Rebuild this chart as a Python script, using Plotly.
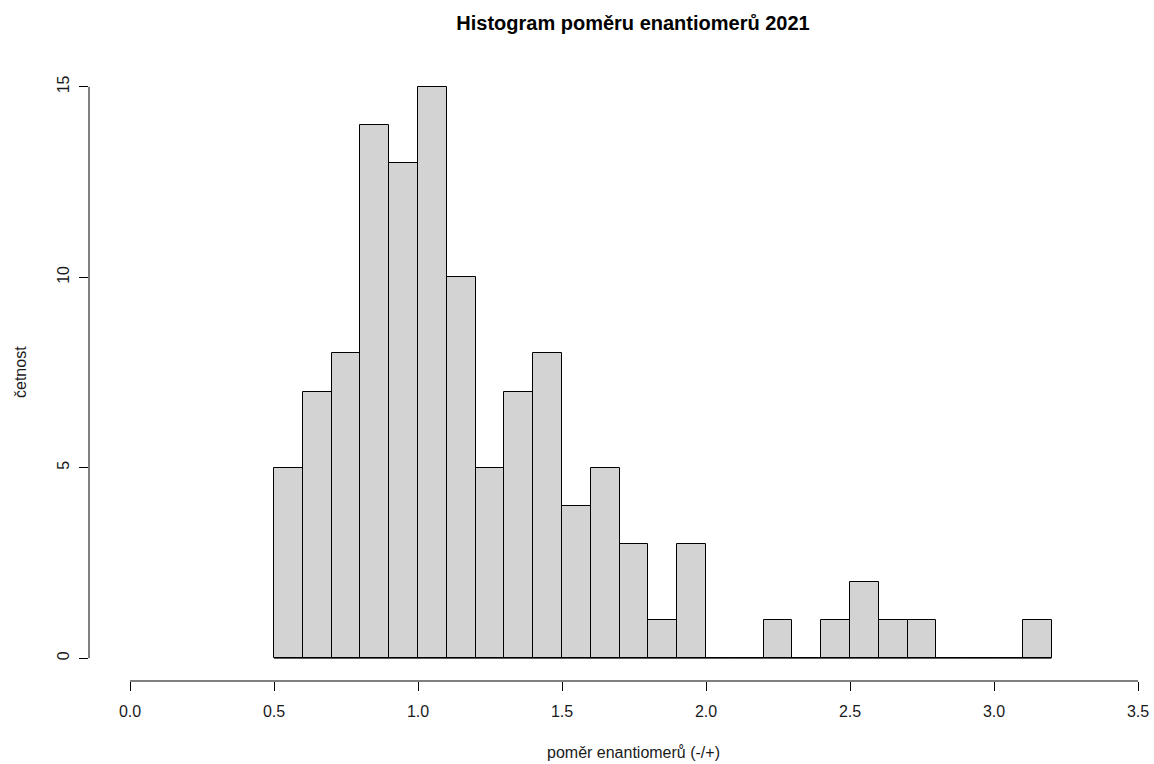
import plotly.graph_objects as go

# Data
bin_edges = [round(0.5 + 0.1 * i, 1) for i in range(28)]  # 0.5 .. 3.2
counts = [5, 7, 8, 14, 13, 15, 10, 5, 7, 8, 4, 5, 3, 1, 3, 0, 0, 1, 0, 1, 2, 1, 1, 0, 0, 0, 1]
x_ticks = [0.0, 0.5, 1.0, 1.5, 2.0, 2.5, 3.0, 3.5]
x_tick_labels = ["0.0", "0.5", "1.0", "1.5", "2.0", "2.5", "3.0", "3.5"]
y_ticks = [0, 5, 10, 15]
y_tick_labels = ["0", "5", "10", "15"]

title = "Histogram poměru enantiomerů 2021"
x_title = "poměr enantiomerů (-/+)"
y_title = "četnost"

centers = [(bin_edges[i] + bin_edges[i + 1]) / 2 for i in range(len(counts))]
widths = [bin_edges[i + 1] - bin_edges[i] for i in range(len(counts))]

W, H = 1154, 764
ml, mr, mt, mb = 89, 0, 64, 83
pw, ph = W - ml - mr, H - mt - mb
px_per_x = 288.0
x0 = -(130 - ml) / px_per_x
x1 = x0 + pw / px_per_x
ymin, ymax = -0.6, 15.6

FONT = "Liberation Sans, Arial, sans-serif"
TXT = "#1a1a1a"

fig = go.Figure()
fig.add_trace(go.Bar(
    x=centers, y=counts, width=widths,
    marker=dict(color="#D3D3D3", line=dict(color="#000000", width=1)),
    hoverinfo="x+y", showlegend=False,
))
# baseline of zero-height bins
fig.add_trace(go.Scatter(
    x=[bin_edges[0], bin_edges[-1]], y=[0, 0], mode="lines",
    line=dict(color="#000000", width=1), showlegend=False, hoverinfo="skip",
))

# R-style axis lines spanning first..last tick
fig.add_shape(type="line", xref="x", yref="paper", x0=x_ticks[0], x1=x_ticks[-1], y0=0, y1=0,
              line=dict(color="#000000", width=1))
fig.add_shape(type="line", xref="paper", yref="y", x0=0, x1=0, y0=y_ticks[0], y1=y_ticks[-1],
              line=dict(color="#000000", width=1))

fig.update_layout(
    width=W, height=H,
    margin=dict(l=ml, r=mr, t=mt, b=mb, autoexpand=False),
    paper_bgcolor="white", plot_bgcolor="white",
    font=dict(family=FONT, size=16, color=TXT),
    bargap=0,
    title=dict(text="<b>" + title + "</b>", x=633 / W, xref="container", xanchor="center",
               y=1 - 23 / H, yref="container", yanchor="middle",
               font=dict(family=FONT, size=20, color="#000000")),
    xaxis=dict(range=[x0, x1], tickmode="array", tickvals=x_ticks, ticktext=x_tick_labels,
               ticks="outside", ticklen=9, tickcolor="#000000", tickwidth=1,
               ticklabelstandoff=7,
               showline=False, showgrid=False, zeroline=False,
               tickfont=dict(size=16, color=TXT)),
    yaxis=dict(range=[ymin, ymax], tickmode="array", tickvals=y_ticks, ticktext=y_tick_labels,
               ticks="outside", ticklen=9, tickcolor="#000000", tickwidth=1,
               tickangle=-90, ticklabelstandoff=4,
               showline=False, showgrid=False, zeroline=False,
               tickfont=dict(size=16, color=TXT)),
    annotations=[
        dict(text=x_title, x=(633 - ml) / pw, y=(H - mb - 752) / ph, xref="paper", yref="paper",
             showarrow=False, xanchor="center", yanchor="middle",
             font=dict(family=FONT, size=16, color=TXT)),
        dict(text=y_title, x=(20 - ml) / pw, y=(H - mb - 372) / ph, xref="paper", yref="paper",
             showarrow=False, xanchor="center", yanchor="middle", textangle=-90,
             font=dict(family=FONT, size=16, color=TXT)),
    ],
)

fig.write_html(
    "out.html",
    config={"displayModeBar": False},
    post_script="document.body.style.margin='0';document.documentElement.style.overflow='hidden';",
)
